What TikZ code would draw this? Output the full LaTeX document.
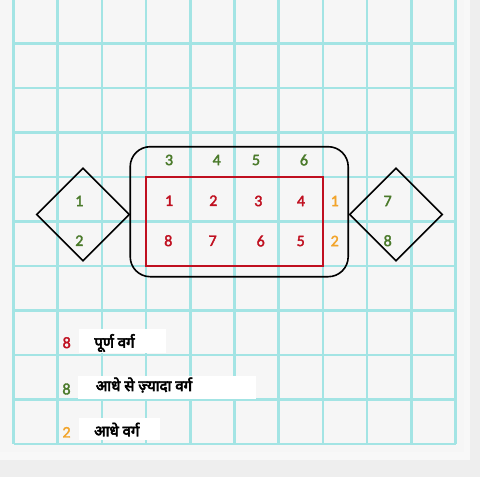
\documentclass[tikz,border=0pt]{standalone}
\usepackage{fontspec}
\setmainfont{Carlito}
\newfontfamily\numfont[FakeBold=2.2]{Carlito}
\newfontfamily\hindi[Script=Devanagari,FakeBold=4]{Noto Sans}
\usetikzlibrary{shapes.geometric}
\definecolor{gridc}{HTML}{A3E4E4}
\definecolor{redc}{HTML}{C01020}
\definecolor{greenc}{HTML}{4A7A2A}
\definecolor{orangec}{HTML}{F2A42A}
\definecolor{bgc}{HTML}{EEEEEE}
\definecolor{panelc}{HTML}{F6F6F6}
\begin{document}
\begin{tikzpicture}[x=1pt,y=-1pt,
  num/.style={font=\numfont\fontsize{16}{17}\selectfont, inner sep=0pt, anchor=center},
  rednum/.style={num, text=redc},
  greennum/.style={num, text=greenc},
  orangenum/.style={num, text=orangec},
  dia/.style={diamond, draw=black, line width=1.6pt, minimum width=93pt, minimum height=93pt, inner sep=0pt, aspect=1},
  legtext/.style={font=\hindi\fontsize{15}{17}\selectfont, inner sep=0pt, anchor=west, text=black},
]
\useasboundingbox (0,0) rectangle (480,477);
\fill[bgc] (0,0) rectangle (480,477);
\fill[white!60!bgc] (0,0) rectangle (470,460);
\fill[panelc] (0,0) rectangle (464,452);
% grid
\foreach \k in {0,...,10} {
  \draw[gridc, line width=2.6pt] ({13.5+44.2*\k},0) -- ({13.5+44.2*\k},444);
}
\foreach \k in {1,...,10} {
  \draw[gridc, line width=2.6pt] (13.5,{-1+44.5*\k}) -- (455.5,{-1+44.5*\k});
}
% rounded box and red rectangle
\node[draw=black, line width=1.6pt, rounded corners=20pt, minimum width=218pt, minimum height=130pt, inner sep=0pt] (outer) at (239.2,211.7) {};
\node[draw=redc, line width=1.3pt, minimum width=176.8pt, minimum height=89pt, inner sep=0pt] (inner) at (234.5,221.5) {};
% diamonds
\node[dia] (ldia) at (83,214.5) {};
\node[dia] (rdia) at (396,214.5) {};
% diamond labels
\node[greennum] (l1) at (79.3,201) {1};
\node[greennum] (l2) at (79.3,240.7) {2};
\node[greennum] (r7) at (387.7,201) {7};
\node[greennum] (r8) at (387.7,240.7) {8};
% top row
\node[greennum] (t3) at (169,160) {3};
\node[greennum] (t4) at (216.7,160) {4};
\node[greennum] (t5) at (256,160) {5};
\node[greennum] (t6) at (304,160) {6};
% red numbers
\node[rednum] (a1) at (169,200.7) {1};
\node[rednum] (a2) at (213.3,200.7) {2};
\node[rednum] (a3) at (258.3,201) {3};
\node[rednum] (a4) at (301,201) {4};
\node[rednum] (b8) at (168.3,240.7) {8};
\node[rednum] (b7) at (212.7,240.7) {7};
\node[rednum] (b6) at (260.7,241) {6};
\node[rednum] (b5) at (300.7,241) {5};
% orange halves
\node[orangenum] (h1) at (334.7,201) {1};
\node[orangenum] (h2) at (334.7,241) {2};
% legend
\fill[white] (79,329) rectangle (166,353);
\fill[white] (78,376) rectangle (256,399);
\fill[white] (79,418) rectangle (160,440);
\node[rednum] (k1) at (66.7,342.7) {8};
\node[greennum] (k2) at (66.5,389) {8};
\node[orangenum] (k3) at (66.5,432.3) {2};
\node[legtext] (t1) at (94.3,343) {पूर्ण वर्ग};
\node[legtext] (t2) at (95.7,385) {आधे से ज़्यादा वर्ग};
\node[legtext] (t3b) at (94,429.5) {आधे वर्ग};
\end{tikzpicture}
\end{document}
